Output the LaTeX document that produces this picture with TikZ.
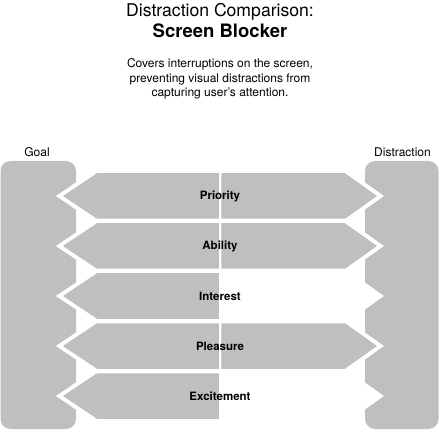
\documentclass[tikz,border=0pt]{standalone}
\usepackage{fontspec}
\setmainfont{TeX Gyre Heros}
\definecolor{blockgray}{RGB}{190,191,193}
\usetikzlibrary{positioning}

% half arrows of one row, #1 = row centre
\newcommand{\goalhalf}[1]{(218.75,#1-22.75) -- (97,#1-22.75) -- (63,#1) -- (97,#1+22.75) -- (218.75,#1+22.75) -- cycle}
\newcommand{\distrhalf}[1]{(221.25,#1-22.75) -- (345,#1-22.75) -- (377,#1) -- (345,#1+22.75) -- (221.25,#1+22.75) -- cycle}

\begin{document}
\begin{tikzpicture}[
  x=1pt,y=-1pt,
  bar/.style={fill=blockgray,rounded corners=10pt},
  notch/.style={draw=white,line width=8pt,line join=miter},
  half/.style={fill=blockgray},
  rowlabel/.style={font=\fontsize{11.5}{13}\selectfont\bfseries},
  sidelabel/.style={font=\fontsize{12}{14}\selectfont}
]
  \useasboundingbox (0,0) rectangle (439,430);
  % heading
  \node[font=\fontsize{17.6}{20}\selectfont] (title) at (220,12) {Distraction Comparison:};
  \node[font=\fontsize{18.5}{20}\selectfont\bfseries] (subtitle) at (220,31) {Screen Blocker};
  \node[font=\fontsize{12}{14.5}\selectfont,align=center] (desc) at (220,79) {
    Covers interruptions on the screen,\\
    preventing visual distractions from\\
    capturing user’s attention.
  };
  % side bars
  \fill[bar] (0.5,161) rectangle (76,429);
  \fill[bar] (365,161) rectangle (438.5,429);
  \node[sidelabel] (goal) at (37,152) {Goal};
  \node[sidelabel] (distr) at (402.5,152) {Distraction};
  % notches cut into the bars
  \draw[notch] \goalhalf{196};  \draw[notch] \distrhalf{196};
  \draw[notch] \goalhalf{246};  \draw[notch] \distrhalf{246};
  \draw[notch] \goalhalf{296};  \draw[notch] \distrhalf{296};
  \draw[notch] \goalhalf{346};  \draw[notch] \distrhalf{346};
  \draw[notch] \goalhalf{396};  \draw[notch] \distrhalf{396};
  % arrow halves (empty ones left white)
  \fill[half] \goalhalf{196};  \fill[half] \distrhalf{196};
  \fill[half] \goalhalf{246};  \fill[half] \distrhalf{246};
  \fill[half] \goalhalf{296};  \fill[white] \distrhalf{296};
  \fill[half] \goalhalf{346};  \fill[half] \distrhalf{346};
  \fill[half] \goalhalf{396};  \fill[white] \distrhalf{396};
  % row labels
  \node[rowlabel] (priority) at (220,196) {Priority};
  \node[rowlabel] (ability) at (220,246) {Ability};
  \node[rowlabel] (interest) at (220,296) {Interest};
  \node[rowlabel] (pleasure) at (220,346) {Pleasure};
  \node[rowlabel] (excitement) at (220,396) {Excitement};
\end{tikzpicture}
\end{document}
